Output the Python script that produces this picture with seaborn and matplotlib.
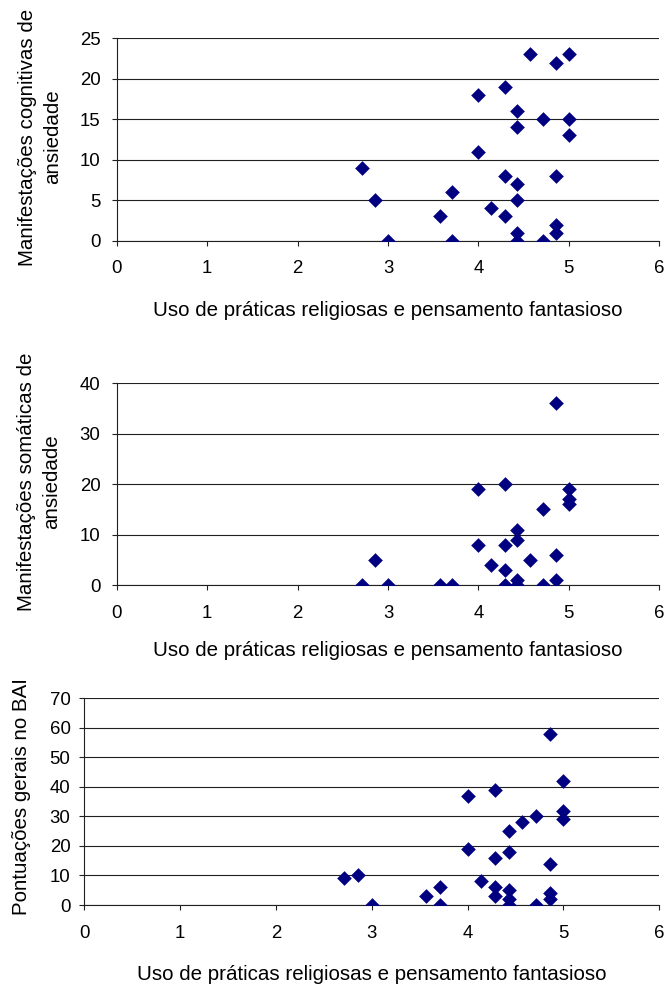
import matplotlib
matplotlib.use("Agg")
import matplotlib.pyplot as plt
import seaborn as sns
import pandas as pd

# ---- data ----
x_label = "Uso de práticas religiosas e pensamento fantasioso"

cog_x = [4.57, 4.86, 5.00, 4.29, 4.00, 4.43, 4.71, 5.00, 4.43, 5.00, 4.00, 2.71, 4.29, 4.86,
         4.43, 3.71, 2.86, 4.43, 4.14, 3.57, 4.29, 4.86, 4.43, 4.86, 3.00, 3.71, 4.43, 4.71]
cog_y = [23, 22, 23, 19, 18, 16, 15, 15, 14, 13, 11, 9, 8, 8,
         7, 6, 5, 5, 4, 3, 3, 2, 1, 1, 0, 0, 0, 0]

som_x = [4.86, 4.00, 4.29, 5.00, 5.00, 5.00, 4.71, 4.43, 4.43, 4.00, 4.29, 4.86, 2.86,
         4.57, 4.14, 4.29, 4.43, 4.86, 2.71, 3.00, 3.57, 3.71, 4.29, 4.43, 4.71]
som_y = [36, 19, 20, 19, 17, 16, 15, 11, 9, 8, 8, 6, 5,
         5, 4, 3, 1, 1, 0, 0, 0, 0, 0, 0, 0]

bai_x = [4.86, 5.00, 4.00, 4.29, 5.00, 5.00, 4.71, 4.57, 4.43, 4.00, 4.43, 4.29, 4.86, 2.71,
         2.86, 3.00, 3.57, 3.71, 3.71, 4.14, 4.29, 4.29, 4.43, 4.43, 4.43, 4.71, 4.86, 4.86]
bai_y = [58, 42, 37, 39, 32, 29, 30, 28, 25, 19, 18, 16, 14, 9,
         10, 0, 3, 6, 0, 8, 6, 3, 5, 2, 0, 0, 4, 2]

y_labels = ["Manifestações cognitivas de\nansiedade",
            "Manifestações somáticas de\nansiedade",
            "Pontuações gerais no BAI"]
y_ticks = [list(range(0, 26, 5)), list(range(0, 41, 10)), list(range(0, 71, 10))]
x_ticks = [0, 1, 2, 3, 4, 5, 6]

# ---- style ----
sns.set_theme(style="white")
plt.rcParams["font.family"] = ["Liberation Sans", "DejaVu Sans"]
FS_TICK = 13.4
FS_LABEL = 14.8
MARKER_COLOR = "#000080"
LINE_COLOR = "#202020"

W, H = 669, 990
fig = plt.figure(figsize=(W / 100, H / 100), dpi=100)

# axes boxes in pixels: left, top, right, bottom
boxes = [(116.7, 38.3, 659.3, 240.7),
         (116.7, 383.3, 659.3, 585.0),
         (84.3, 698.3, 659.3, 905.0)]
ylab_px = [(40, 137), (39, 482), (22, 797)]
xlab_py = [310, 651, 974]
ypads = [8.0, 8.0, 6.3]

datasets = [(cog_x, cog_y), (som_x, som_y), (bai_x, bai_y)]

for i, ((xs, ys), (l, t, r, b)) in enumerate(zip(datasets, boxes)):
    ax = fig.add_axes([l / W, 1 - b / H, (r - l) / W, (b - t) / H])
    df = pd.DataFrame({"x": xs, "y": ys})
    sns.scatterplot(data=df, x="x", y="y", marker="D", s=56, color=MARKER_COLOR,
                    edgecolor=MARKER_COLOR, linewidth=0, ax=ax, zorder=3)
    ax.set_xlim(0, 6)
    ax.set_ylim(y_ticks[i][0], y_ticks[i][-1])
    ax.set_xticks(x_ticks)
    ax.set_yticks(y_ticks[i])
    ax.yaxis.grid(True, color=LINE_COLOR, lw=0.8)
    ax.xaxis.grid(False)
    ax.set_axisbelow(True)
    for side in ["top", "right"]:
        ax.spines[side].set_visible(False)
    for side in ["left", "bottom"]:
        ax.spines[side].set_color(LINE_COLOR)
        ax.spines[side].set_linewidth(0.8)
        ax.spines[side].set_zorder(2.5)
    ax.tick_params(axis="x", direction="out", length=3.6, width=0.8, color=LINE_COLOR,
                   pad=10.5, labelsize=FS_TICK, labelcolor="black", bottom=True)
    ax.tick_params(axis="y", direction="out", length=3.6, width=0.8, color=LINE_COLOR,
                   pad=ypads[i], labelsize=FS_TICK, labelcolor="black", left=True)
    hpx = b - t
    wpx = r - l
    ax.set_xlabel(x_label, fontsize=FS_LABEL, color="black", va="center")
    ax.xaxis.set_label_coords(0.5, -(xlab_py[i] - b) / hpx)
    ax.set_ylabel(y_labels[i], fontsize=FS_LABEL, color="black", va="center", ha="center",
                  linespacing=1.42)
    ax.yaxis.set_label_coords((ylab_px[i][0] - l) / wpx, 1 - (ylab_px[i][1] - t) / hpx)

fig.savefig("out.png", dpi=100, facecolor="white")
